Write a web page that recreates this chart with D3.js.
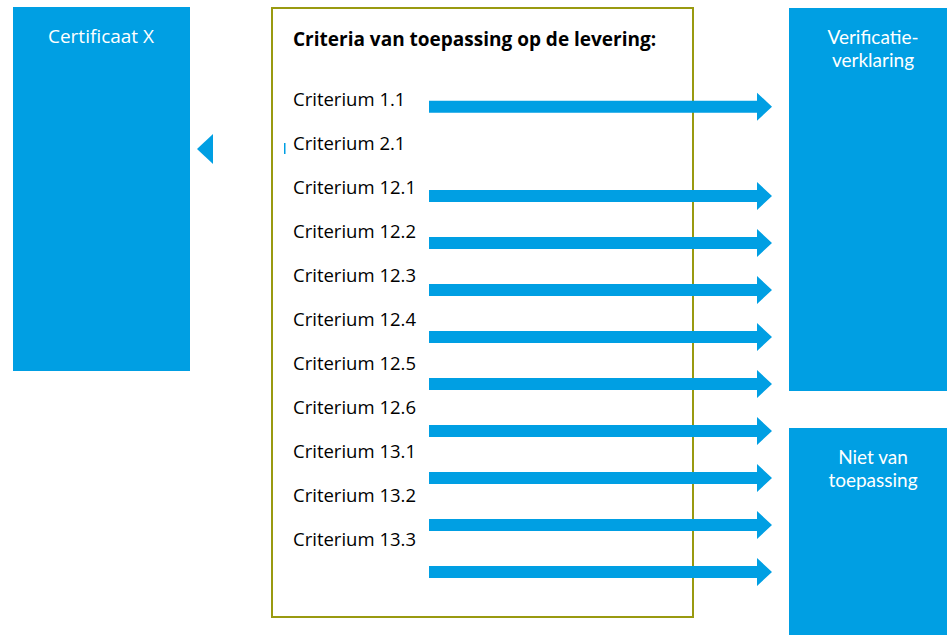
<!DOCTYPE html>
<head>
    <script src="https://d3js.org/d3.v7.min.js"></script>
</head>
<style>
body { margin: 0; background: #fff; }
svg text { font-family: "Open Sans", "Noto Sans", sans-serif; }
</style>
<body>
<svg></svg>
<script>
    // data
    var criteria = ["Criterium 1.1", "Criterium 2.1", "Criterium 12.1", "Criterium 12.2", "Criterium 12.3",
                    "Criterium 12.4", "Criterium 12.5", "Criterium 12.6", "Criterium 13.1", "Criterium 13.2", "Criterium 13.3"];
    var title = "Criteria van toepassing op de levering:";
    var sourceLabel = ["Certificaat X"];
    var targetLabels = [["Verificatie-", "verklaring"], ["Niet van", "toepassing"]];
    // arrow rows (in arrow-row units), and which target they go to
    var arrowRows = [-0.9, 1, 2, 3, 4, 5, 6, 7, 8, 9];
    var arrowTarget = [0, 0, 0, 0, 0, 0, 1, 1, 1, 1];
    var backRow = 0;   // the left pointing marker

    var width = 947, height = 635;
    var blue = "#009fe3";

    var svg = d3.select("svg").attr("width", width).attr("height", height);

    // scales
    var rowY = d3.scaleLinear().domain([0, criteria.length - 1]).range([106, 546]);
    var arrowY = d3.scaleLinear().domain([1, 9]).range([196, 572]);

    // left box
    svg.append("rect").attr("x", 13).attr("y", 7).attr("width", 177).attr("height", 364).attr("fill", blue);
    svg.append("text").attr("x", 101).attr("y", 43).attr("text-anchor", "middle")
        .attr("fill", "#fff").style("font-size", "19px").text(sourceLabel[0]);

    // right boxes
    var boxes = [{y: 8, h: 383}, {y: 428, h: 210}];
    var tg = svg.selectAll("g.target").data(targetLabels).enter().append("g").attr("class", "target");
    tg.append("rect").attr("x", 789).attr("width", 160)
        .attr("y", function(d, i) { return boxes[i].y; })
        .attr("height", function(d, i) { return boxes[i].h; })
        .attr("fill", blue);
    tg.each(function(lines, i) {
        d3.select(this).selectAll("text").data(lines).enter().append("text")
            .attr("x", 873).attr("text-anchor", "middle")
            .attr("y", function(d, j) { return boxes[i].y + 36 + j * 23; })
            .attr("fill", "#fff").style("font-size", "19px").style("font-family", "Lato, sans-serif")
            .text(function(d) { return d; });
    });

    // middle frame
    svg.append("rect").attr("x", 272).attr("y", 8).attr("width", 421).attr("height", 609)
        .attr("fill", "none").attr("stroke", "#999a10").attr("stroke-width", 2);

    svg.append("text").attr("x", 293).attr("y", 46).style("font-size", "19px").style("font-weight", "bold")
        .attr("fill", "#000").text(title);

    svg.selectAll("text.crit").data(criteria).enter().append("text").attr("class", "crit")
        .attr("x", 293).attr("y", function(d, i) { return rowY(i); })
        .style("font-size", "18.5px").attr("fill", "#000")
        .text(function(d) { return d; });

    // arrows
    var x0 = 429, xHead = 757, xTip = 772, shaft = 6, head = 14;
    svg.selectAll("path.arrow").data(arrowRows).enter().append("path").attr("class", "arrow")
        .attr("fill", blue)
        .attr("d", function(r) {
            var y = arrowY(r);
            return "M" + x0 + "," + (y - shaft) + "H" + xHead + "V" + (y - head) + "L" + xTip + "," + y +
                "L" + xHead + "," + (y + head) + "V" + (y + shaft) + "H" + x0 + "Z";
        });

    // back marker (points to certificate)
    var by = arrowY(backRow);
    svg.append("path").attr("fill", blue)
        .attr("d", "M197," + by + "L213," + (by - 15) + "V" + (by + 15) + "Z");
    svg.append("rect").attr("x", 284).attr("y", by - 6).attr("width", 1.5).attr("height", 11).attr("fill", blue);
</script>
</body>
